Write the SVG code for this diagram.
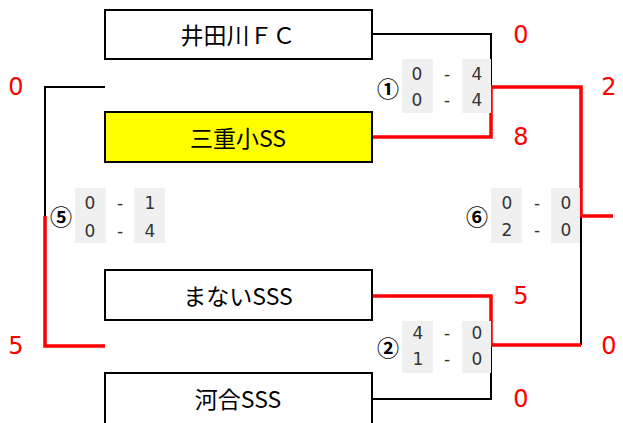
<svg xmlns="http://www.w3.org/2000/svg" width="623" height="423" viewBox="0 0 623 423">
<style>
.team{fill:#fff;stroke:#000;stroke-width:2}
.tt{font-family:"Noto Sans CJK JP","Liberation Sans",sans-serif;font-size:23px;fill:#000;text-anchor:middle;dominant-baseline:central}
.bl{fill:none;stroke:#000;stroke-width:2}
.rd{fill:none;stroke:#f00;stroke-width:3.5}
.sc{font-family:"DejaVu Sans",sans-serif;font-size:24px;fill:#f00;text-anchor:middle;dominant-baseline:central}
.gb{fill:#f0f0f0}
.gs{font-family:"DejaVu Sans",sans-serif;font-size:17px;fill:#333;text-anchor:middle;dominant-baseline:central}
.cn{font-family:"Noto Sans CJK JP","DejaVu Sans",sans-serif;font-size:22px;font-weight:bold;fill:#000;text-anchor:middle;dominant-baseline:central}
</style>
<g id="connectors">
<polyline class="bl" points="372,34 491,34 491,87"/>
<polyline class="bl" points="372,399 491,399 491,345"/>
<polyline class="bl" points="581,216 581,345"/>
<polyline class="bl" points="105,87 45,87 45,217"/>
<polyline class="rd" points="372,137 491,137 491,87 581,87 581,216 613,216"/>
<polyline class="rd" points="372,296 491,296 491,345 581,345"/>
<polyline class="rd" points="45,216 45,346 105,346"/>
</g>
<g id="team-idagawa">
<rect class="team" x="105" y="10" width="267" height="49"/>
<text class="tt" x="238" y="34">井田川ＦＣ</text>
</g>
<g id="team-mie">
<rect class="team" x="105" y="112" width="267" height="50" style="fill:#ff0"/>
<text class="tt" x="238" y="137">三重小SS</text>
</g>
<g id="team-manai">
<rect class="team" x="105" y="270" width="267" height="50"/>
<text class="tt" x="238" y="295">まないSSS</text>
</g>
<g id="team-kawai">
<rect class="team" x="105" y="373" width="267" height="52"/>
<text class="tt" x="238" y="398">河合SSS</text>
</g>
<g id="scores">
<text class="sc" x="521" y="35">0</text>
<text class="sc" x="521" y="137">8</text>
<text class="sc" x="609" y="87">2</text>
<text class="sc" x="521" y="296">5</text>
<text class="sc" x="609" y="346">0</text>
<text class="sc" x="521" y="399">0</text>
<text class="sc" x="16" y="87">0</text>
<text class="sc" x="16" y="346">5</text>
</g>
<g id="match1">
<rect class="gb" x="402" y="59" width="31" height="54"/>
<rect class="gb" x="462" y="59" width="29" height="54"/>
<text class="cn" x="388" y="87">①</text>
<text class="gs" x="417" y="74">0</text><text class="gs" x="447" y="74">-</text><text class="gs" x="477" y="74">4</text>
<text class="gs" x="417" y="100">0</text><text class="gs" x="447" y="100">-</text><text class="gs" x="477" y="100">4</text>
</g>
<g id="match5">
<rect class="gb" x="75" y="188" width="31" height="55"/>
<rect class="gb" x="134" y="188" width="31" height="55"/>
<text class="cn" x="61" y="215">⑤</text>
<text class="gs" x="90" y="203">0</text><text class="gs" x="120" y="203">-</text><text class="gs" x="150" y="203">1</text>
<text class="gs" x="90" y="231">0</text><text class="gs" x="120" y="231">-</text><text class="gs" x="150" y="231">4</text>
</g>
<g id="match6">
<rect class="gb" x="491" y="188" width="31" height="55"/>
<rect class="gb" x="551" y="188" width="29" height="55"/>
<text class="cn" x="477" y="215">⑥</text>
<text class="gs" x="507" y="203">0</text><text class="gs" x="537" y="203">-</text><text class="gs" x="566" y="203">0</text>
<text class="gs" x="507" y="230">2</text><text class="gs" x="537" y="230">-</text><text class="gs" x="566" y="230">0</text>
</g>
<g id="match2">
<rect class="gb" x="402" y="321" width="31" height="52"/>
<rect class="gb" x="462" y="321" width="29" height="52"/>
<text class="cn" x="388" y="346">②</text>
<text class="gs" x="418" y="333">4</text><text class="gs" x="447" y="333">-</text><text class="gs" x="477" y="333">0</text>
<text class="gs" x="418" y="359">1</text><text class="gs" x="447" y="359">-</text><text class="gs" x="477" y="359">0</text>
</g>
</svg>
